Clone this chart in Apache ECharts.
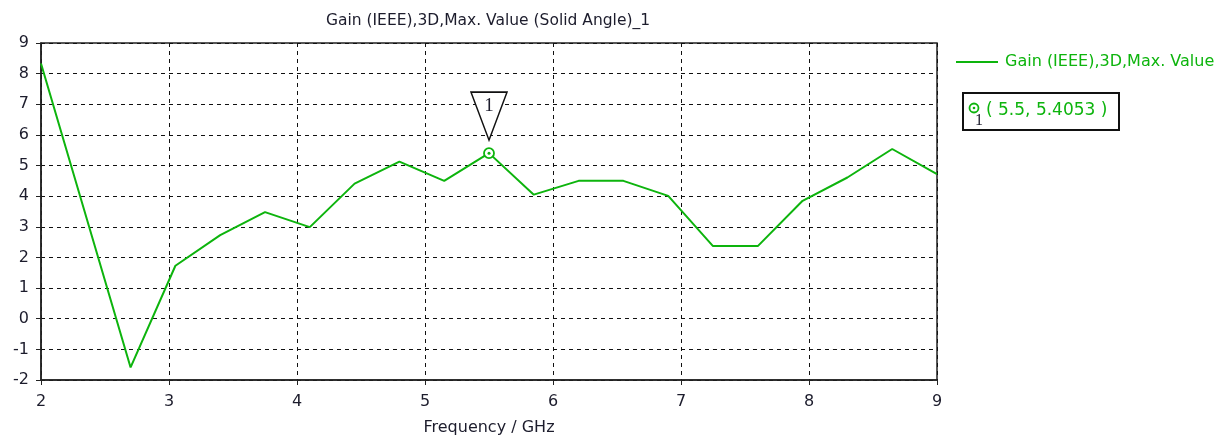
<!DOCTYPE html>
<html>
<head>
<meta charset="utf-8">
<script src="https://cdn.jsdelivr.net/npm/echarts@6/dist/echarts.min.js"></script>
<style>
  html, body { margin: 0; padding: 0; background: #ffffff; }
  #chart { width: 1227px; height: 439px; }
</style>
</head>
<body>
<div id="chart"></div>
<script>
// Maximum realized gain over frequency
const chartTitle = 'Gain (IEEE),3D,Max. Value (Solid Angle)_1';
const seriesName = 'Gain (IEEE),3D,Max. Value';
const xAxisTitle = 'Frequency / GHz';

const frequencyGHz = [2.0, 2.7, 3.05, 3.4, 3.75, 4.1, 4.45, 4.8, 5.15, 5.5, 5.85, 6.2, 6.55, 6.9, 7.25, 7.6, 7.95, 8.3, 8.65, 9.0];
const gainDb       = [8.33, -1.59, 1.73, 2.73, 3.48, 2.99, 4.41, 5.13, 4.50, 5.4053, 4.05, 4.50, 4.50, 4.01, 2.37, 2.37, 3.85, 4.61, 5.54, 4.72];

// Marker 1
const markerId = '1';
const markerX = 5.5;
const markerY = 5.4053;

const GREEN = '#0db40d';
const TEXT = '#1c1c2c';
const FONT = 'DejaVu Sans';

const chart = echarts.init(document.getElementById('chart'), null, { renderer: 'canvas' });

const points = frequencyGHz.map((f, i) => [f, gainDb[i]]);

chart.setOption({
  backgroundColor: '#ffffff',
  animation: false,
  textStyle: { fontFamily: FONT },
  title: {
    text: chartTitle,
    left: 483,
    textAlign: 'center',
    top: 8,
    textStyle: { fontFamily: FONT, fontSize: 15.5, fontWeight: 'normal', color: TEXT }
  },
  legend: {
    left: 951,
    top: 49,
    icon: 'rect',
    itemWidth: 42,
    itemHeight: 2,
    itemGap: 10,
    textStyle: { fontFamily: FONT, fontSize: 16, color: GREEN, padding: [0, 0, 0, 2] },
    data: [seriesName]
  },
  grid: {
    left: 41, right: 290, top: 43, bottom: 59,
    outerBoundsMode: 'none',
    containLabel: false,
    show: true, borderColor: '#222', borderWidth: 1.5, backgroundColor: 'transparent'
  },
  xAxis: {
    type: 'value',
    min: 2, max: 9, interval: 1,
    name: xAxisTitle,
    nameLocation: 'middle',
    nameGap: 40,
    nameTextStyle: { fontFamily: FONT, fontSize: 16, color: TEXT },
    axisLine: { show: true, onZero: false, lineStyle: { color: '#222', width: 1.5 } },
    axisTick: { show: true, length: 5, inside: false, lineStyle: { color: '#222' } },
    axisLabel: { fontFamily: FONT, fontSize: 16, color: TEXT, margin: 14 },
    splitLine: { show: true, lineStyle: { color: '#111', type: [4, 4], width: 1 } }
  },
  yAxis: {
    type: 'value',
    min: -2, max: 9, interval: 1,
    axisLine: { show: true, onZero: false, lineStyle: { color: '#222', width: 1.5 } },
    axisTick: { show: true, length: 5, lineStyle: { color: '#222' } },
    axisLabel: { fontFamily: FONT, fontSize: 16, color: TEXT, margin: 12 },
    splitLine: { show: true, lineStyle: { color: '#111', type: [4, 4], width: 1 } }
  },
  series: [{
    name: seriesName,
    type: 'line',
    data: points,
    symbol: 'none',
    lineStyle: { color: GREEN, width: 2 },
    itemStyle: { color: GREEN },
    markPoint: {
      silent: true,
      data: [
        {
          coord: [markerX, markerY],
          symbol: 'triangle',
          symbolRotate: 180,
          symbolSize: [36, 48],
          symbolOffset: [0, -37],
          itemStyle: { color: '#ffffff', borderColor: '#111', borderWidth: 1.6 },
          label: {
            show: true,
            formatter: markerId,
            position: 'inside',
            offset: [0, -10],
            fontFamily: 'Liberation Serif',
            fontSize: 19,
            color: TEXT
          }
        },
        {
          coord: [markerX, markerY],
          symbol: 'circle',
          symbolSize: 10,
          itemStyle: { color: '#ffffff', borderColor: GREEN, borderWidth: 1.8 },
          label: { show: false }
        },
        {
          coord: [markerX, markerY],
          symbol: 'circle',
          symbolSize: 3,
          itemStyle: { color: GREEN },
          label: { show: false }
        }
      ]
    }
  }],
  graphic: [{
    type: 'group',
    left: 962,
    top: 92,
    children: [
      { type: 'rect', shape: { x: 0, y: 0, width: 156, height: 37 }, style: { fill: '#fff', stroke: '#111', lineWidth: 2 } },
      { type: 'circle', shape: { cx: 11, cy: 15, r: 4.5 }, style: { fill: '#fff', stroke: GREEN, lineWidth: 1.8 } },
      { type: 'circle', shape: { cx: 11, cy: 15, r: 1.3 }, style: { fill: GREEN } },
      { type: 'text', style: { x: 12, y: 28, text: markerId, fontFamily: 'Liberation Serif', fontSize: 16, fill: TEXT, textAlign: 'left', textVerticalAlign: 'middle' } },
      { type: 'text', style: { x: 23, y: 18, text: '( ' + markerX + ', ' + markerY + ' )', fontFamily: FONT, fontSize: 17, fill: GREEN, textAlign: 'left', textVerticalAlign: 'middle' } }
    ]
  }]
});
</script>
</body>
</html>
